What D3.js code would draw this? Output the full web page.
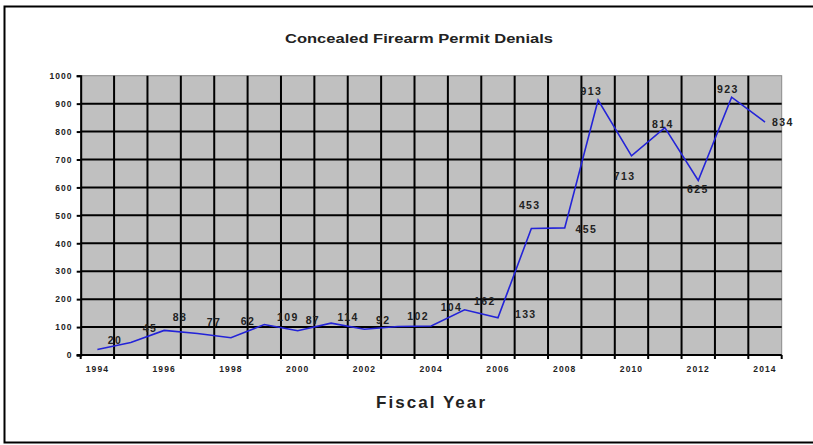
<!DOCTYPE html>
<html>
<head>
<meta charset="utf-8">
<script src="https://cdn.jsdelivr.net/npm/d3@7"></script>
<style>
  html, body { margin: 0; padding: 0; background: #fff; }
  svg { display: block; font-family: "Liberation Sans", Arial, sans-serif; }
</style>
</head>
<body>
<svg id="chart" width="813" height="445"></svg>
<script>
// ---- data ----
const years = ["1994","1995","1996","1997","1998","1999","2000","2001","2002","2003","2004",
               "2005","2006","2007","2008","2009","2010","2011","2012","2013","2014"];
const denials = [20, 45, 88, 77, 62, 109, 87, 114, 92, 102, 104,
                 162, 133, 453, 455, 913, 713, 814, 625, 923, 834];
const xTickLabels = ["1994","1996","1998","2000","2002","2004","2006","2008","2010","2012","2014"];
const yTickValues = [0, 100, 200, 300, 400, 500, 600, 700, 800, 900, 1000];
const chartTitle = "Concealed Firearm Permit Denials";
const xAxisTitle = "Fiscal Year";

// ---- layout (label placement relative to each point, px) ----
const labelOffsets = [
  [17.6, -9.4], [19.2, -14.4], [15.8, -13.4], [16.4, -11.5], [17, -16.7], [23.6, -7.6],
  [15.2, -10.7], [17.1, -5.9], [18.7, -8.6], [20.3, -10.5], [20.3, -18.7], [20.2, -8.1],
  [27.8, -3.9], [-1.6, -23.5], [21.7, 1.4], [-6.7, -9], [-6.8, 20.8], [-1.9, -3.3],
  [-0.3, 8.9], [-3.7, -7.9], [17.9, 0.2]
];

const svg = d3.select("#chart");
const plot = { left: 80.7, right: 781.7, top: 75.7, bottom: 355 };

const x = d3.scaleBand().domain(years).range([plot.left, plot.right]).padding(0);
const y = d3.scaleLinear().domain([0, 1000]).range([plot.bottom, plot.top]);
const cx = d => x(d) + x.bandwidth() / 2;

// outer frame
svg.append("rect")
  .attr("x", 4.5).attr("y", 6.5).attr("width", 830).attr("height", 436)
  .attr("fill", "none").attr("stroke", "#000").attr("stroke-width", 2);

// title
svg.append("text")
  .attr("x", 419).attr("y", 38).attr("dy", "0.35em")
  .attr("text-anchor", "middle")
  .attr("font-size", 13).attr("font-weight", "bold").attr("fill", "#222")
  .attr("textLength", 268).attr("lengthAdjust", "spacingAndGlyphs")
  .text(chartTitle);

// plot background
svg.append("rect")
  .attr("x", plot.left).attr("y", plot.top)
  .attr("width", plot.right - plot.left).attr("height", plot.bottom - plot.top)
  .attr("fill", "#c0c0c0").attr("stroke", "#8a8a8a").attr("stroke-width", 1);

// horizontal gridlines
svg.append("g").selectAll("line")
  .data(yTickValues.filter(v => v > 0 && v < 1000))
  .join("line")
  .attr("x1", plot.left).attr("x2", plot.right)
  .attr("y1", d => y(d)).attr("y2", d => y(d))
  .attr("stroke", "#000").attr("stroke-width", 2);

// vertical gridlines at category boundaries
svg.append("g").selectAll("line")
  .data(years.slice(1))
  .join("line")
  .attr("x1", d => x(d)).attr("x2", d => x(d))
  .attr("y1", plot.top).attr("y2", plot.bottom + 4)
  .attr("stroke", "#000").attr("stroke-width", 2);

// y axis
const yAxis = svg.append("g")
  .attr("transform", `translate(${plot.left},0)`)
  .call(d3.axisLeft(y).tickValues(yTickValues).tickFormat(d3.format("d")).tickSize(4).tickPadding(4));
yAxis.select(".domain").attr("stroke", "#000").attr("stroke-width", 2);
yAxis.selectAll(".tick line").attr("stroke", "#000").attr("stroke-width", 2);
yAxis.selectAll(".tick text")
  .attr("font-size", 8.5).attr("font-weight", "bold").attr("fill", "#222")
  .attr("letter-spacing", 1.1)
  .attr("font-family", "\"Liberation Sans\", Arial, sans-serif");

// x axis
svg.append("line")
  .attr("x1", plot.left - 4).attr("x2", plot.right)
  .attr("y1", plot.bottom).attr("y2", plot.bottom)
  .attr("stroke", "#000").attr("stroke-width", 2);
svg.append("line")
  .attr("x1", plot.left).attr("x2", plot.left)
  .attr("y1", plot.bottom).attr("y2", plot.bottom + 4)
  .attr("stroke", "#000").attr("stroke-width", 2);
svg.append("line")
  .attr("x1", plot.right).attr("x2", plot.right)
  .attr("y1", plot.bottom).attr("y2", plot.bottom + 4)
  .attr("stroke", "#000").attr("stroke-width", 2);

const xAxis = svg.append("g")
  .attr("transform", `translate(0,${plot.bottom})`)
  .call(d3.axisBottom(x).tickValues(xTickLabels).tickSize(0).tickPadding(11));
xAxis.select(".domain").remove();
xAxis.selectAll(".tick text")
  .attr("font-size", 8.5).attr("font-weight", "bold").attr("fill", "#222")
  .attr("letter-spacing", 1.1)
  .attr("font-family", "\"Liberation Sans\", Arial, sans-serif");

// line
const line = d3.line().x((d, i) => cx(years[i])).y(d => y(d));
svg.append("path")
  .datum(denials)
  .attr("d", line)
  .attr("fill", "none")
  .attr("stroke", "#2323d8")
  .attr("stroke-width", 1.6);

// data labels
svg.append("g").selectAll("text")
  .data(denials)
  .join("text")
  .attr("x", (d, i) => cx(years[i]) + labelOffsets[i][0])
  .attr("y", (d, i) => y(d) + labelOffsets[i][1])
  .attr("dy", "0.35em")
  .attr("text-anchor", "middle")
  .attr("font-size", 10.5)
  .attr("font-weight", "bold")
  .attr("letter-spacing", 1.4)
  .attr("fill", "#222")
  .text(d => d);

// x axis title
svg.append("text")
  .attr("x", 430.5).attr("y", 402).attr("dy", "0.35em")
  .attr("text-anchor", "middle")
  .attr("font-size", 17).attr("font-weight", "bold").attr("fill", "#222")
  .attr("textLength", 109).attr("lengthAdjust", "spacing")
  .text(xAxisTitle);
</script>
</body>
</html>
